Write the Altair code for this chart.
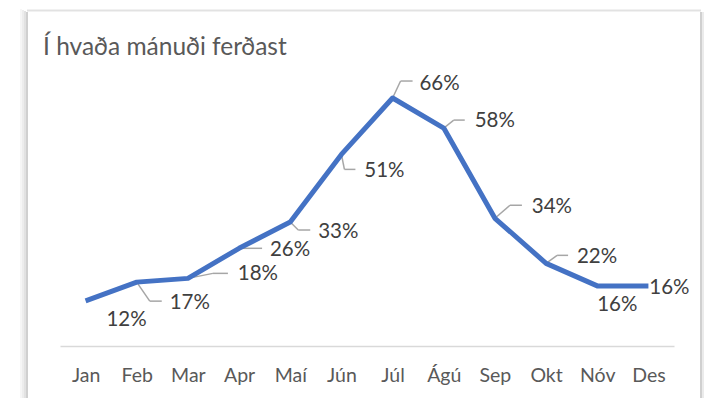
import altair as alt
import pandas as pd

# ---- data ----
months = ["Jan", "Feb", "Mar", "Apr", "Maí", "Jún", "Júl", "Ágú", "Sep", "Okt", "Nóv", "Des"]
values = [12, 17, 18, 26, 33, 51, 66, 58, 34, 22, 16, 16]
label_text = [f"{v}%" for v in values]
title_text = "Í hvaða mánuði ferðast"

# label placement (pixel offsets from each point, like Excel's dragged labels)
label_dx = [41, 53, 70, 51, 48, 43, 47, 51, 57, 51, 20, 21]
label_dy = [19, 21, -4, 2, 10, 17, -14, -7, -11, -6, 19, 2]
leader_elbow = [None, (13, 19), (25, -5), (0, 0), (8, 8), (3, 15), (8, -17), (10, -8), (15, -13), (11, -8), None, None]
leader_end = [None, (25, 19), (40, -5), (23, 0), (20, 8), (14, 15), (20, -17), (21, -8), (27, -13), (22, -8), None, None]

W, H = 614, 263
YMAX = 70
PXX = W / 12.0
PXY = H / YMAX

FONT = "Lato"


def px_to_x(p):
    return -0.5 + p / PXX


def px_to_y(p):
    return YMAX - p / PXY


df = pd.DataFrame({"i": list(range(12)), "month": months, "value": values, "label": label_text})
df["lx"] = [i + dx / PXX for i, dx in zip(range(12), label_dx)]
df["ly"] = [v - dy / PXY for v, dy in zip(values, label_dy)]

segs = []
for i, (v, e, n) in enumerate(zip(values, leader_elbow, leader_end)):
    if e is None:
        continue
    pts = [(0, 0), e, n]
    for a, b in zip(pts[:-1], pts[1:]):
        segs.append({"xa": i + a[0] / PXX, "ya": v - a[1] / PXY,
                     "xb": i + b[0] / PXX, "yb": v - b[1] / PXY})
leaders = pd.DataFrame(segs)

label_expr = ""
for i, m in enumerate(months):
    label_expr += f"datum.value == {i} ? '{m}' : "
label_expr += "''"

xscale = alt.Scale(domain=[-0.5, 11.5], nice=False, zero=False)
yscale = alt.Scale(domain=[0, YMAX], nice=False, zero=False)
xaxis = alt.Axis(values=list(range(12)), labelExpr=label_expr, title=None,
                 ticks=False, grid=False, domainColor="#d9d9d9", domainWidth=1.5,
                 labelFont=FONT, labelFontSize=19.5, labelColor="#595959",
                 labelPadding=20, labelAngle=0, zindex=1)


def X(field):
    return alt.X(field, type="quantitative", scale=xscale, axis=xaxis)


def Y(field):
    return alt.Y(field, type="quantitative", scale=yscale, axis=None)


# ---- decorative panel (white box) and its soft shadow, in plot-pixel offsets ----
bound_df = pd.DataFrame([{"xa": px_to_x(-52), "xb": px_to_x(643), "ya": px_to_y(-73), "yb": px_to_y(315)}])
bound = alt.Chart(bound_df).mark_rect(fill="#ffffff").encode(
    x=X("xa"), x2="xb", y=Y("ya"), y2="yb")

shadow_rows = []
for px, op in [(-39, 0.06), (-37, 0.12), (-35, 0.2), (-33, 0.32)]:
    shadow_rows.append({"xa": px_to_x(px), "xb": px_to_x(px), "ya": px_to_y(-71 - (-32 - px) // 2),
                        "yb": px_to_y(315), "op": op})
for px, op in [(641, 0.32), (643, 0.14)]:
    shadow_rows.append({"xa": px_to_x(px), "xb": px_to_x(px), "ya": px_to_y(-71),
                        "yb": px_to_y(315), "op": op})
for py, op in [(-72.5, 0.2)]:
    shadow_rows.append({"xa": px_to_x(-33), "xb": px_to_x(641), "ya": px_to_y(py),
                        "yb": px_to_y(py), "op": op})
shadow_df = pd.DataFrame(shadow_rows)
shadow = alt.Chart(shadow_df).mark_rule(color="#6e6e6e", strokeWidth=2).encode(
    x=X("xa"), x2="xb", y=Y("ya"), y2="yb",
    opacity=alt.Opacity("op:Q", scale=None))

title_df = pd.DataFrame([{"xa": px_to_x(-17), "ya": px_to_y(-28), "t": title_text}])
title = alt.Chart(title_df).mark_text(font=FONT, fontSize=24.5, color="#595959", align="left",
                                      baseline="alphabetic").encode(
    x=X("xa"), y=Y("ya"), text="t:N")

base = alt.Chart(df)

line = base.mark_line(color="#4472C4", strokeWidth=5, strokeJoin="round").encode(
    x=X("i"), y=Y("value"))

lead = alt.Chart(leaders).mark_rule(color="#a6a6a6", strokeWidth=1.5).encode(
    x=X("xa"), x2="xb", y=Y("ya"), y2="yb")

labels = base.mark_text(font=FONT, fontSize=20.5, color="#404040", baseline="middle", align="center").encode(
    x=X("lx"), y=Y("ly"), text="label:N")

chart = alt.layer(bound, shadow, title, lead, line, labels).properties(
    width=W, height=H, padding=0,
).configure_view(strokeWidth=0)

chart.save("out.html", embed_options={"renderer": "svg", "actions": False})
